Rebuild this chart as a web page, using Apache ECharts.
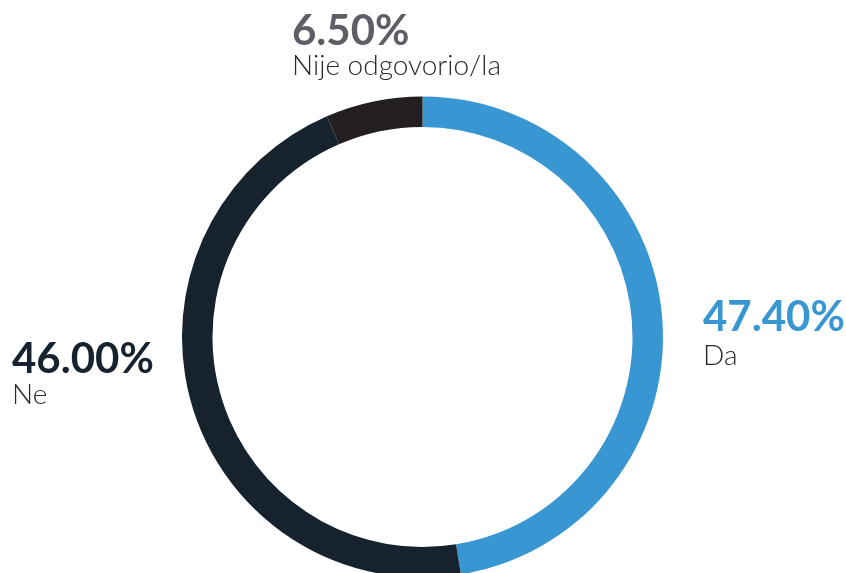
<!DOCTYPE html>
<html>
<head>
<meta charset="utf-8">
<script src="https://cdn.jsdelivr.net/npm/echarts@6/dist/echarts.min.js"></script>
<style>
  html, body { margin: 0; padding: 0; background: #ffffff; }
  #chart { width: 846px; height: 573px; }
</style>
</head>
<body>
<div id="chart"></div>
<script>
// Survey answers, in share of respondents (%)
const categories = ['Da', 'Ne', 'Nije odgovorio/la'];
const shares = [47.4, 46.0, 6.5];

// Look of each answer: slice colour, value colour, label block corner, gap under the value
const looks = [
  { slice: '#3896d3', value: '#3896d3', at: [703, 295], nameLine: 34 },
  { slice: '#16222d', value: '#16222d', at: [12, 337], nameLine: 28 },
  { slice: '#231f20', value: '#5e5e66', at: [292, 9], nameLine: 25 }
];

const chart = echarts.init(document.getElementById('chart'), null, { renderer: 'canvas' });

const data = categories.map((name, i) => ({
  name,
  value: shares[i],
  itemStyle: { color: looks[i].slice },
  label: {
    rich: {
      pct: { color: looks[i].value, fontSize: 42, fontWeight: 'bold', fontFamily: 'Lato', lineHeight: 44 },
      name: { color: '#2a2a2a', fontSize: 28, fontWeight: 300, fontFamily: 'Lato', lineHeight: looks[i].nameLine }
    }
  }
}));

chart.setOption({
  animation: false,
  series: [{
    type: 'pie',
    center: [422.5, 337],
    radius: [210, 240.5],
    startAngle: 90,
    clockwise: true,
    avoidLabelOverlap: false,
    itemStyle: { borderWidth: 0 },
    label: {
      show: true,
      position: 'outside',
      formatter: p => '{pct|' + p.value.toFixed(2) + '%}\n{name|' + p.name + '}'
    },
    labelLine: { show: false },
    labelLayout: p => ({
      x: looks[p.dataIndex].at[0],
      y: looks[p.dataIndex].at[1],
      align: 'left',
      verticalAlign: 'top',
      hideOverlap: false
    }),
    emphasis: { disabled: true },
    data
  }]
});
</script>
</body>
</html>
